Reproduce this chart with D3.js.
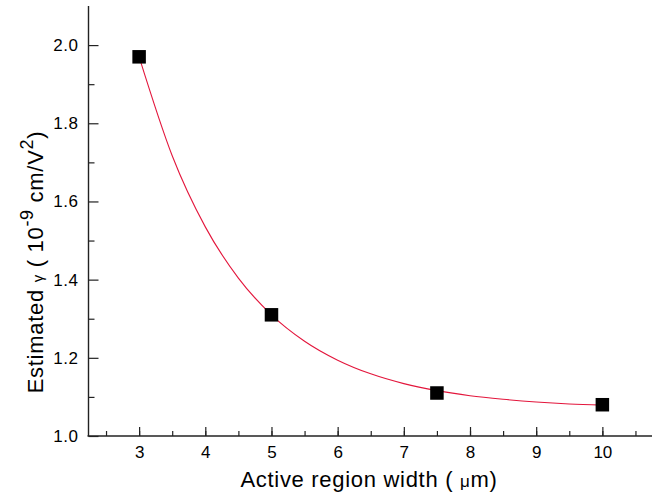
<!DOCTYPE html>
<html><head><meta charset="utf-8">
<script src="https://cdn.jsdelivr.net/npm/d3@7/dist/d3.min.js"></script>
<style>body{margin:0;background:#fff}svg{display:block;font-family:"Liberation Sans",Arial,sans-serif}</style>
</head><body><svg id="c" width="660" height="495"></svg>
<script>
const widths = [3, 5, 7.5, 10];
const gammaVals = [1.97, 1.31, 1.11, 1.08];
const fitX = [3, 3.5, 4, 4.5, 5, 5.5, 6, 6.5, 7, 7.5, 8, 8.5, 9, 9.5, 10];
const fitY = [1.97, 1.717, 1.535, 1.404, 1.310, 1.2425, 1.194, 1.159, 1.134, 1.116, 1.103, 1.094, 1.087, 1.082, 1.079];
const xTicks = [3, 4, 5, 6, 7, 8, 9, 10];
const yTicks = [1.0, 1.2, 1.4, 1.6, 1.8, 2.0];

const svg = d3.select("#c");
const x = d3.scaleLinear().domain([2.22, 10.75]).range([87.5, 652]);
const y = d3.scaleLinear().domain([1.0, 2.1]).range([436, 6]);
const axisColor = "#222";

const xMinor = d3.range(2.5, 10.75, 0.5);
const yMinor = d3.range(1.1, 2.1, 0.2);

const gx = svg.append("g").attr("transform", "translate(0,436)");
gx.append("g").call(d3.axisBottom(x).tickValues(xMinor).tickSize(-5).tickFormat(""))
  .call(g => g.select(".domain").remove());
gx.append("g").call(d3.axisBottom(x).tickValues(xTicks).tickSize(-9).tickFormat(d3.format("d")).tickPadding(10))
  .call(g => g.select(".domain").attr("d", `M${x.range()[0]},0H${x.range()[1]}`));
gx.selectAll("line").attr("stroke", axisColor).attr("stroke-width", 1.2);
gx.selectAll(".domain").attr("stroke", axisColor).attr("stroke-width", 1.4);
gx.selectAll("text").attr("font-size", 17).attr("fill", "#000").attr("font-family", "Liberation Sans, Arial, sans-serif");

const gy = svg.append("g").attr("transform", "translate(88.5,0)");
gy.append("g").call(d3.axisLeft(y).tickValues(yMinor).tickSize(-6).tickFormat(""))
  .call(g => g.select(".domain").remove());
gy.append("g").call(d3.axisLeft(y).tickValues(yTicks).tickSize(-10).tickFormat(d3.format(".1f")).tickPadding(10))
  .call(g => g.select(".domain").attr("d", `M0,${y.range()[1]}V${y.range()[0]}`));
gy.selectAll("line").attr("stroke", axisColor).attr("stroke-width", 1.2);
gy.selectAll(".domain").attr("stroke", axisColor).attr("stroke-width", 1.4);
gy.selectAll("text").attr("font-size", 17).attr("fill", "#000").attr("letter-spacing", 0.5).attr("font-family", "Liberation Sans, Arial, sans-serif");

const line = d3.line().x((d, i) => x(fitX[i])).y(d => y(d)).curve(d3.curveMonotoneX);
svg.append("path").attr("d", line(fitY)).attr("fill", "none").attr("stroke", "#e3163c").attr("stroke-width", 1.1);

const s = 13.5;
svg.selectAll("rect.pt").data(gammaVals).join("rect").attr("class", "pt")
  .attr("x", (d, i) => x(widths[i]) - s / 2).attr("y", d => y(d) - s / 2)
  .attr("width", s).attr("height", s).attr("fill", "#000");

const xt = svg.append("text").attr("x", 369).attr("y", 487).attr("text-anchor", "middle")
  .attr("font-size", 22).attr("letter-spacing", 0.7).attr("fill", "#000");
xt.append("tspan").text("Active region width ( ");
xt.append("tspan").attr("font-size", 17).text("μ");
xt.append("tspan").text("m)");

const yt = svg.append("text").attr("transform", "translate(43,262) rotate(-90)").attr("text-anchor", "middle")
  .attr("font-size", 22).attr("letter-spacing", 0.7).attr("fill", "#000");
yt.append("tspan").text("Estimated ");
yt.append("tspan").attr("font-size", 15).text("γ");
yt.append("tspan").text(" ( 10");
yt.append("tspan").attr("font-size", 18).attr("dy", -10).text("-9");
yt.append("tspan").attr("dy", 10).text(" cm/V");
yt.append("tspan").attr("font-size", 18).attr("dy", -10).text("2");
yt.append("tspan").attr("dy", 10).text(")");
</script></body></html>
